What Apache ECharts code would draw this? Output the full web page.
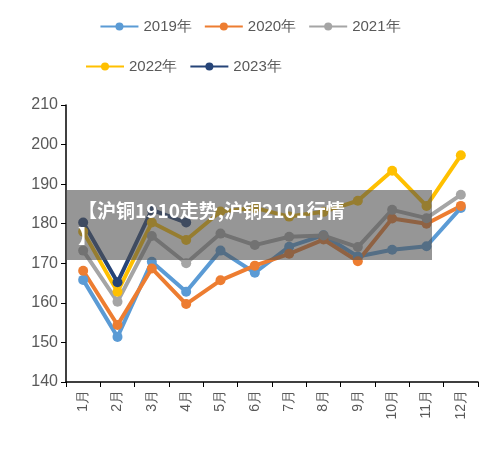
<!DOCTYPE html>
<html><head><meta charset="utf-8">
<script src="https://cdn.jsdelivr.net/npm/echarts@6/dist/echarts.min.js"></script>
<style>html,body{margin:0;padding:0;background:#fff}#c{width:500px;height:450px}</style>
</head><body><div id="c"></div>
<script>
const months=['1月','2月','3月','4月','5月','6月','7月','8月','9月','10月','11月','12月'];
const names=['2019年','2020年','2021年','2022年','2023年'];
const colors=['#5b9bd5','#ed7d31','#a5a5a5','#ffc000','#264478'];
const s2019=[165.8,151.4,170.4,162.8,173.2,167.6,174.2,177.1,171.7,173.4,174.3,184];
const s2020=[168.1,154.4,168.7,159.7,165.7,169.4,172.4,176,170.5,181.3,180,184.5];
const s2021=[173.2,160.3,176.9,170,177.5,174.6,176.7,177,174.1,183.5,181.4,187.3];
const s2022=[178,162.8,180.3,175.9,183.1,184,181.8,183,185.8,193.4,184.5,197.3];
const s2023=[180.3,165.2,183.5,180.3];
const yTicks={min:140,max:210,interval:10};
const data=[s2019,s2020,s2021,s2022,s2023];
const chart=echarts.init(document.getElementById('c'));
chart.setOption({
  animation:false,
  color:colors,
  legend:[{data:names.slice(0,3),top:14,left:'center',itemWidth:38,itemHeight:10,itemGap:12,textStyle:{fontSize:15,color:'#595959'}},
          {data:names.slice(3),top:54,left:80,itemWidth:38,itemHeight:10,itemGap:12,textStyle:{fontSize:15,color:'#595959'}}],
  grid:{left:66,right:22,top:105,bottom:68},
  xAxis:{type:'category',data:months,boundaryGap:true,
    axisLine:{lineStyle:{color:'#000',width:1.5}},axisTick:{show:true,alignWithLabel:false,lineStyle:{color:'#000'}},
    axisLabel:{rotate:90,fontSize:14,color:'#595959'}},
  yAxis:{type:'value',min:yTicks.min,max:yTicks.max,interval:yTicks.interval,
    axisLine:{show:true,lineStyle:{color:'#000',width:1.5}},axisTick:{show:true,inside:false,lineStyle:{color:'#000'}},
    splitLine:{show:false},axisLabel:{fontSize:16,color:'#595959'}},
  series:data.map((d,i)=>({name:names[i],type:'line',data:d,symbol:'circle',symbolSize:10,
    lineStyle:{width:4},itemStyle:{color:colors[i]}})),
  graphic:[{type:'rect',left:66,top:190,shape:{width:366,height:70},style:{fill:'rgba(80,80,80,0.6)'},z:100},
    {type:'text',left:78,top:198,style:{text:'【沪铜1910走势,沪铜2101行情\n】',fill:'#fff',font:'bold 19px "Noto Sans CJK SC"',lineHeight:26},z:101}]
});
</script></body></html>
